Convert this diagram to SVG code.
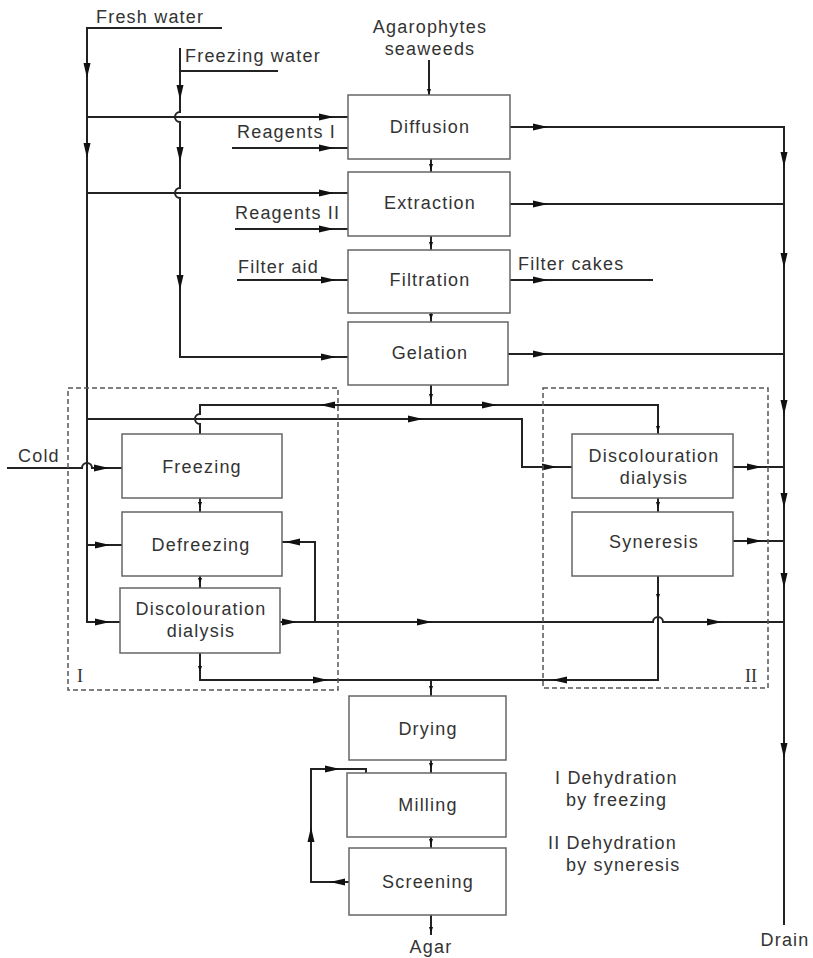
<svg xmlns="http://www.w3.org/2000/svg" xmlns:xlink="http://www.w3.org/1999/xlink" width="813" height="958" viewBox="0 0 813 958">
<style>
.bg{fill:#fff}
.box{fill:#fff;stroke:#666;stroke-width:1.5}
.dash{fill:none;stroke:#555;stroke-width:1.5;stroke-dasharray:5 3}
.ln{fill:none;stroke:#222;stroke-width:2}
.ah{fill:#111}
text{font-family:"Liberation Sans",Arial,sans-serif;font-size:18px;fill:#333;letter-spacing:1.2px}
.c{text-anchor:middle}
.rom{font-family:"Liberation Serif","Times New Roman",serif;font-size:18px;letter-spacing:0}
</style>
<defs>
<path id="ar" class="ah" d="M0,0 L-15,-3.5 L-15,3.5 Z"/>
<path id="sa" class="ah" d="M0,0 L-6,-2 L-6,2 Z"/>
</defs>
<rect class="bg" x="0" y="0" width="813" height="958"/>

<g id="connectors">
<!-- fresh water -->
<path class="ln" d="M222,28 H87 V622 H120"/>
<path class="ln" d="M87,117 H348"/>
<path class="ln" d="M87,193 H348"/>
<path class="ln" d="M87,419 H522 V467 H572"/>
<path class="ln" d="M87,545 H122"/>
<!-- freezing water -->
<path class="ln" d="M180,71 H278"/>
<path class="ln" d="M180,48 V112 a5,5 0 0 0 0,10 V188 a5,5 0 0 0 0,10 V357 H348"/>
<!-- reagents / filter aid -->
<path class="ln" d="M232,148 H348"/>
<path class="ln" d="M235,229 H348"/>
<path class="ln" d="M237,280 H348"/>
<path class="ln" d="M510,280 H653"/>
<!-- drain -->
<path class="ln" d="M510,127 H784 V925"/>
<path class="ln" d="M510,204 H784"/>
<path class="ln" d="M508,354 H784"/>
<path class="ln" d="M733,467 H784"/>
<path class="ln" d="M733,541 H784"/>
<!-- main flow -->
<path class="ln" d="M429,60 V95"/>
<path class="ln" d="M431,159 V172 M431,236 V250 M431,313 V322"/>
<path class="ln" d="M431,385 V405"/>
<path class="ln" d="M431,405 H200 V414 a5,5 0 0 0 0,10 V434"/>
<path class="ln" d="M431,405 H658 V434"/>
<path class="ln" d="M7,468 H82 a5,5 0 0 1 10,0 H122"/>
<path class="ln" d="M200,498 V512 M200,576 V588"/>
<path class="ln" d="M658,498 V512"/>
<path class="ln" d="M280,622 H653 a5,5 0 0 1 10,0 H784"/>
<path class="ln" d="M315,622 V542 H282"/>
<path class="ln" d="M200,653 V680 H658 V576"/>
<path class="ln" d="M431,680 V696"/>
<path class="ln" d="M431,760 V773 M431,837 V848 M431,915 V935"/>
<path class="ln" d="M349,882 H311 V769 H366 V773"/>
<!-- arrowheads -->
<use xlink:href="#ar" transform="translate(87,78) rotate(90)"/>
<use xlink:href="#ar" transform="translate(87,158) rotate(90)"/>
<use xlink:href="#ar" transform="translate(180,100) rotate(90)"/>
<use xlink:href="#ar" transform="translate(180,162) rotate(90)"/>
<use xlink:href="#ar" transform="translate(180,290) rotate(90)"/>
<use xlink:href="#ar" transform="translate(334,117)"/>
<use xlink:href="#ar" transform="translate(334,148)"/>
<use xlink:href="#ar" transform="translate(334,193)"/>
<use xlink:href="#ar" transform="translate(334,229)"/>
<use xlink:href="#ar" transform="translate(336,280)"/>
<use xlink:href="#ar" transform="translate(336,357)"/>
<use xlink:href="#ar" transform="translate(548,127)"/>
<use xlink:href="#ar" transform="translate(548,204)"/>
<use xlink:href="#ar" transform="translate(548,280)"/>
<use xlink:href="#ar" transform="translate(548,354)"/>
<use xlink:href="#ar" transform="translate(784,167) rotate(90)"/>
<use xlink:href="#ar" transform="translate(784,268) rotate(90)"/>
<use xlink:href="#ar" transform="translate(784,415) rotate(90)"/>
<use xlink:href="#ar" transform="translate(784,508) rotate(90)"/>
<use xlink:href="#ar" transform="translate(784,588) rotate(90)"/>
<use xlink:href="#ar" transform="translate(784,758) rotate(90)"/>
<use xlink:href="#ar" transform="translate(320,405) rotate(180)"/>
<use xlink:href="#ar" transform="translate(497,405)"/>
<use xlink:href="#ar" transform="translate(423,419)"/>
<use xlink:href="#ar" transform="translate(557,467)"/>
<use xlink:href="#ar" transform="translate(109,468)"/>
<use xlink:href="#ar" transform="translate(110,545)"/>
<use xlink:href="#ar" transform="translate(110,622)"/>
<use xlink:href="#ar" transform="translate(285,542) rotate(180)"/>
<use xlink:href="#ar" transform="translate(297,622)"/>
<use xlink:href="#ar" transform="translate(432,622)"/>
<use xlink:href="#ar" transform="translate(722,622)"/>
<use xlink:href="#ar" transform="translate(328,680)"/>
<use xlink:href="#ar" transform="translate(552,680) rotate(180)"/>
<use xlink:href="#ar" transform="translate(762,467)"/>
<use xlink:href="#ar" transform="translate(762,541)"/>
<use xlink:href="#ar" transform="translate(330,882) rotate(180)"/>
<use xlink:href="#ar" transform="translate(311,827) rotate(-90)"/>
<use xlink:href="#ar" transform="translate(340,769)"/>
<!-- small arrowheads -->
<use xlink:href="#sa" transform="translate(429,95) rotate(90)"/>
<use xlink:href="#sa" transform="translate(431,170) rotate(90)"/>
<use xlink:href="#sa" transform="translate(431,248) rotate(90)"/>
<use xlink:href="#sa" transform="translate(431,320) rotate(90)"/>
<use xlink:href="#sa" transform="translate(431,400) rotate(90)"/>
<use xlink:href="#sa" transform="translate(658,432) rotate(90)"/>
<use xlink:href="#sa" transform="translate(200,508) rotate(90)"/>
<use xlink:href="#sa" transform="translate(200,584) rotate(90)"/>
<use xlink:href="#sa" transform="translate(658,508) rotate(90)"/>
<use xlink:href="#sa" transform="translate(200,672) rotate(90)"/>
<use xlink:href="#sa" transform="translate(658,600) rotate(90)"/>
<use xlink:href="#sa" transform="translate(431,692) rotate(90)"/>
<use xlink:href="#sa" transform="translate(431,769) rotate(90)"/>
<use xlink:href="#sa" transform="translate(431,845) rotate(90)"/>
<use xlink:href="#sa" transform="translate(431,933) rotate(90)"/>
</g>

<g id="group-I"><rect class="dash" x="68" y="388" width="270" height="302"/><text class="rom" x="77" y="682">I</text></g>
<g id="group-II"><rect class="dash" x="543" y="388" width="225" height="300"/><text class="rom" x="745" y="682">II</text></g>

<g id="diffusion"><rect class="box" x="348" y="95" width="162" height="64"/><text class="c" x="430" y="133">Diffusion</text></g>
<g id="extraction"><rect class="box" x="348" y="172" width="162" height="64"/><text class="c" x="430" y="209">Extraction</text></g>
<g id="filtration"><rect class="box" x="348" y="250" width="162" height="63"/><text class="c" x="430" y="286">Filtration</text></g>
<g id="gelation"><rect class="box" x="348" y="322" width="160" height="63"/><text class="c" x="430" y="359">Gelation</text></g>
<g id="freezing"><rect class="box" x="122" y="434" width="160" height="64"/><text class="c" x="202" y="473">Freezing</text></g>
<g id="defreezing"><rect class="box" x="122" y="512" width="160" height="64"/><text class="c" x="201" y="551">Defreezing</text></g>
<g id="discolouration-1"><rect class="box" x="120" y="588" width="160" height="65"/><text class="c" x="201" y="615">Discolouration</text><text class="c" x="201" y="637">dialysis</text></g>
<g id="discolouration-2"><rect class="box" x="572" y="434" width="161" height="64"/><text class="c" x="654" y="462">Discolouration</text><text class="c" x="654" y="484">dialysis</text></g>
<g id="syneresis"><rect class="box" x="572" y="512" width="161" height="64"/><text class="c" x="654" y="548">Syneresis</text></g>
<g id="drying"><rect class="box" x="349" y="696" width="157" height="64"/><text class="c" x="428" y="735">Drying</text></g>
<g id="milling"><rect class="box" x="347" y="773" width="159" height="64"/><text class="c" x="428" y="811">Milling</text></g>
<g id="screening"><rect class="box" x="349" y="848" width="157" height="67"/><text class="c" x="428" y="888">Screening</text></g>

<g id="labels">
<text x="96" y="23">Fresh water</text>
<text x="185" y="62">Freezing water</text>
<text class="c" x="430" y="33">Agarophytes</text>
<text class="c" x="430" y="55">seaweeds</text>
<text x="237" y="138">Reagents I</text>
<text x="235" y="219">Reagents II</text>
<text x="238" y="273">Filter aid</text>
<text x="518" y="270">Filter cakes</text>
<text x="18" y="462">Cold</text>
<text class="c" x="431" y="953">Agar</text>
<text class="c" x="785" y="946">Drain</text>
<text x="555" y="784">I Dehydration</text>
<text x="566" y="806">by freezing</text>
<text x="548" y="849">II Dehydration</text>
<text x="566" y="871">by syneresis</text>
</g>
</svg>
